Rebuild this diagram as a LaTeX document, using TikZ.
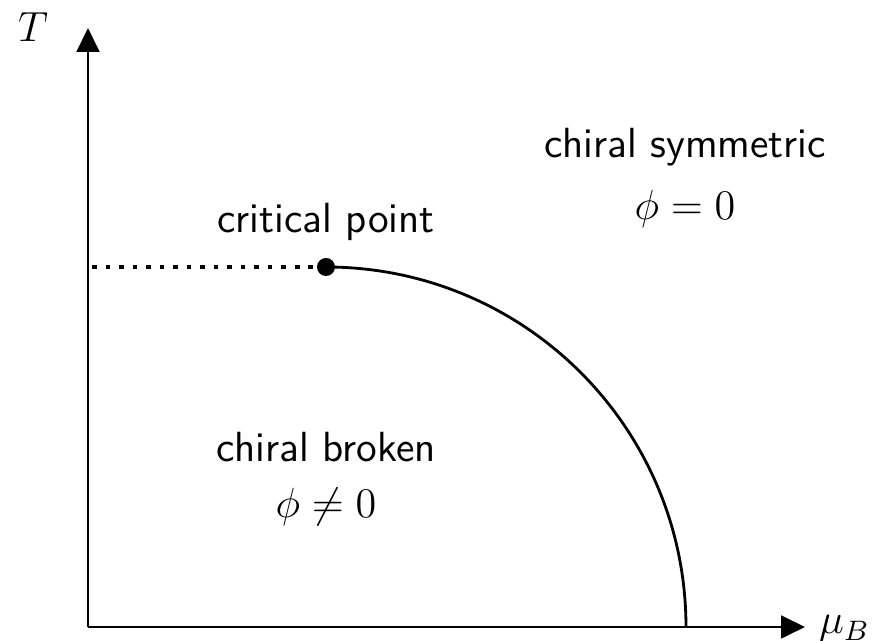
\documentclass[tikz,border=0pt]{standalone}
\usetikzlibrary{arrows.meta}
\tikzset{
  axis/.style={semithick, -{Triangle[width=6.5pt, length=6.8pt]}},
  phase/.style={font=\large\sffamily, anchor=base},
  order/.style={font=\large, anchor=base},
}
\begin{document}
\begin{tikzpicture}
\useasboundingbox (-0.88,-0.14) rectangle (7.97,6.27);
\coordinate (O) at (0,0);
\coordinate (Ttip) at (0,5.99);
\coordinate (mutip) at (7.17,0);
\coordinate (start) at (0.04,3.6);
\draw[axis] (O) -- (Ttip);
\draw[axis] (O) -- (mutip);
\node (Tlabel) [order] at (-0.55,5.85) {$T$};
\node (mulabel) [font=\large, anchor=west, inner sep=1pt] at ([xshift=0.1cm, yshift=-0.02cm]mutip) {$\mu_B$};
% critical point and transition line
\node (cp) [circle, fill, inner sep=0pt, minimum size=0.18cm] at (2.38,3.6) {};
\draw[line width=1.3pt, dash pattern=on 1.3pt off 2.55pt] (start) -- (cp.center);
\draw[thick] (cp.center) arc[start angle=90, end angle=0, radius=3.6];
\node (cplabel) [phase] at (2.38,3.94) {critical point};
% phases
\node (symm) [phase] at (5.97,4.69) {chiral symmetric};
\node (phizero) [order] at (5.97,4.07) {$\phi=0$};
\node (broken) [phase] at (2.38,1.65) {chiral broken};
\node (phinonzero) [order] at (2.38,1.09) {$\phi\neq0$};
\end{tikzpicture}
\end{document}
